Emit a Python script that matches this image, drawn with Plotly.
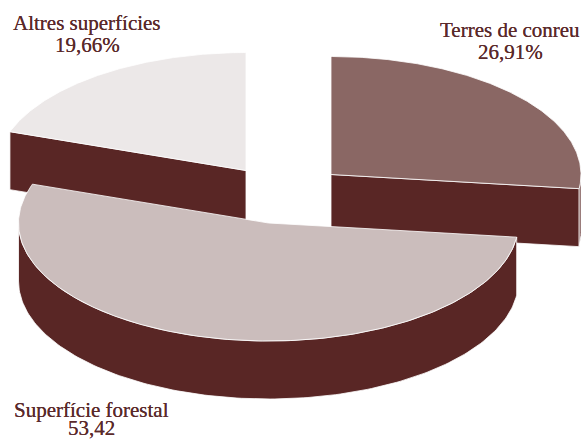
import numpy as np
import plotly.graph_objects as go

categories = ["Terres de conreu", "Superfície forestal", "Altres superfícies"]
values = [26.91, 53.42, 19.66]
value_labels = ["26,91%", "53,42", "19,66%"]

top_colors = ["#8A6764", "#CBBDBC", "#ECE8E8"]
wall_color = "#592625"
text_color = "#5A2A2B"
centers = [(331, 174.5), (268.5, 223), (246, 170.5)]
label_x = [510, 91, 87]
label_y = [(30, 52), (410, 428), (23, 45)]
RX, RY, DEPTH = 250, 118, 58

total = sum(values)
bounds = np.cumsum([0] + values) / total * 2 * np.pi


def edge(c, t):
    return c[0] + RX * np.sin(t), c[1] - RY * np.cos(t)


def poly(xs, ys, fill, name):
    return go.Scatter(
        x=list(xs), y=list(ys), mode="lines", fill="toself", fillcolor=fill,
        line=dict(color="white", width=0.8), hoverinfo="text", text=name,
        showlegend=False,
    )


fig = go.Figure()
for i in [2, 0, 1]:
    c, a, b = centers[i], bounds[i], bounds[i + 1]
    name = f"{categories[i]} {value_labels[i]}"
    # the cut face that looks toward the viewer
    cut = {0: b, 2: a}.get(i)
    if cut is not None:
        ex, ey = edge(c, cut)
        fig.add_trace(poly([c[0], ex, ex, c[0], c[0]],
                           [c[1], ey, ey + DEPTH, c[1] + DEPTH, c[1]],
                           wall_color, name))
    # outer rim, front half only
    lo, hi = max(a, np.pi / 2), min(b, 3 * np.pi / 2)
    if hi > lo:
        t = np.linspace(lo, hi, 160)
        ex, ey = edge(c, t)
        fig.add_trace(poly(np.r_[ex, ex[::-1], ex[0]],
                           np.r_[ey, ey[::-1] + DEPTH, ey[0]],
                           wall_color, name))
    # top face
    t = np.linspace(a, b, 240)
    ex, ey = edge(c, t)
    fig.add_trace(poly(np.r_[c[0], ex, c[0]], np.r_[c[1], ey, c[1]],
                       top_colors[i], name))

for i, lx in enumerate(label_x):
    for line, ly in zip((categories[i], value_labels[i]), label_y[i]):
        fig.add_annotation(
            x=lx, y=ly, xref="x", yref="y", showarrow=False, text=line,
            font=dict(family="Liberation Serif", size=21, color=text_color,
                      shadow=f"0 0 0.6px {text_color}"),
        )

fig.update_layout(
    width=582, height=440, margin=dict(l=0, r=0, t=0, b=0),
    paper_bgcolor="white", plot_bgcolor="white",
    xaxis=dict(range=[0, 582], visible=False, fixedrange=True),
    yaxis=dict(range=[440, 0], visible=False, fixedrange=True),
)
fig.write_html("out.html", config=dict(displayModeBar=False),
               post_script="document.body.style.margin='0';")
